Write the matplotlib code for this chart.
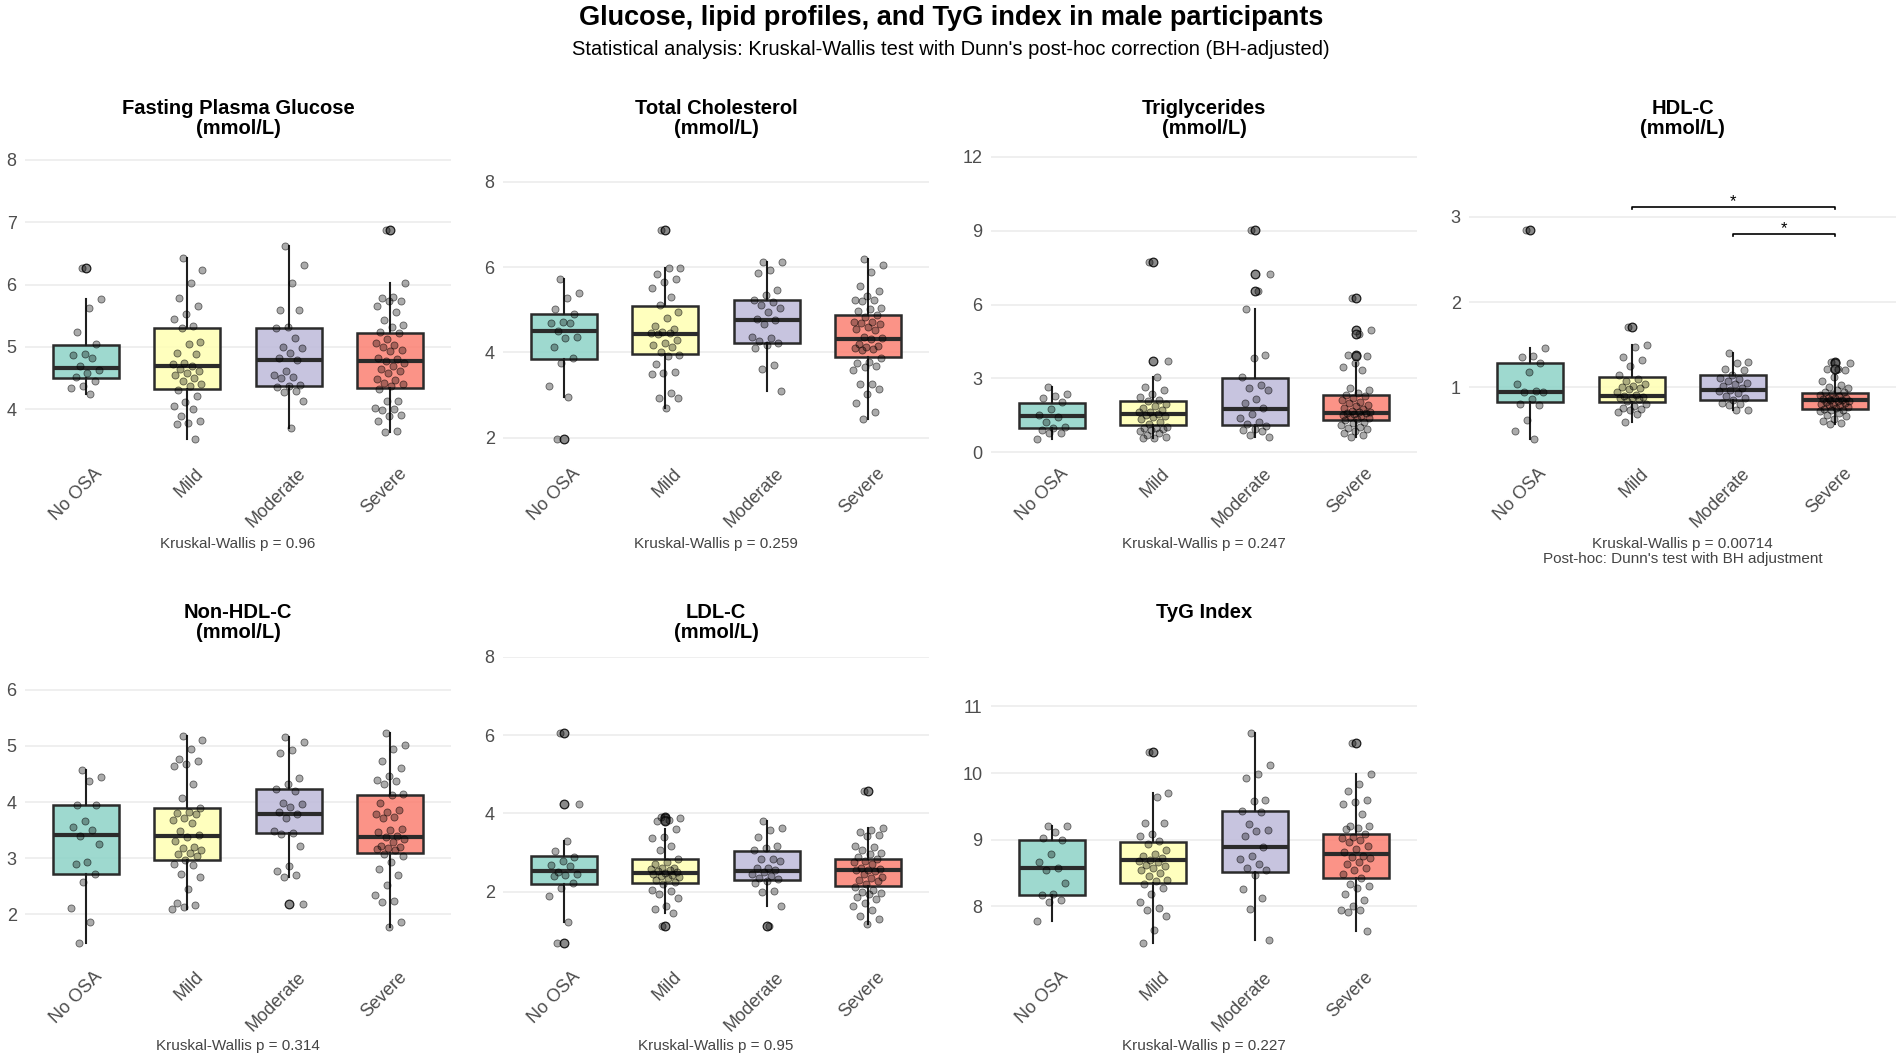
import numpy as np
import matplotlib
matplotlib.use("Agg")
import matplotlib.pyplot as plt
from matplotlib.colors import to_rgba
from matplotlib.ticker import MultipleLocator, FormatStrFormatter
from matplotlib.transforms import ScaledTranslation

plt.rcParams["font.family"] = ["Liberation Sans", "DejaVu Sans"]

# groups and colours (Set3)
groups = ["No OSA", "Mild", "Moderate", "Severe"]
group_colors = ["#8DD3C7", "#FFFFB3", "#BEBADA", "#FB8072"]

# Fasting plasma glucose (mmol/L)
fpg_no_osa = [6.26, 5.77, 5.63, 5.24, 5.04, 4.89, 4.87, 4.83, 4.69, 4.63, 4.59, 4.52, 4.46, 4.38, 4.35, 4.25]
fpg_mild = [6.43, 6.23, 6.03, 5.78, 5.65, 5.53, 5.45, 5.34, 5.30, 5.08, 5.04, 4.90, 4.89, 4.75, 4.72, 4.70, 4.65,
            4.62, 4.58, 4.55, 4.51, 4.45, 4.40, 4.38, 4.31, 4.22, 4.12, 4.05, 4.00, 3.90, 3.82, 3.78, 3.77, 3.52]
fpg_moderate = [6.61, 6.31, 6.03, 5.59, 5.59, 5.32, 5.30, 5.15, 5.00, 4.98, 4.91, 4.82, 4.79, 4.61, 4.55, 4.52,
                4.51, 4.39, 4.37, 4.36, 4.30, 4.28, 4.14, 3.71]
fpg_severe = [6.88, 6.03, 5.80, 5.79, 5.73, 5.73, 5.65, 5.56, 5.43, 5.35, 5.32, 5.24, 5.22, 5.12, 5.06, 5.03, 5.00,
              4.95, 4.94, 4.83, 4.80, 4.78, 4.74, 4.69, 4.65, 4.62, 4.59, 4.49, 4.47, 4.43, 4.41, 4.38, 4.33, 4.14,
              4.13, 4.02, 4.00, 3.99, 3.91, 3.89, 3.81, 3.66, 3.63]
fpg_box = [(4.50, 4.67, 5.035), (4.32, 4.69, 5.31), (4.37, 4.79, 5.30), (4.34, 4.78, 5.22)]

# Total cholesterol
tc_no_osa = [5.72, 5.39, 5.27, 5.02, 4.89, 4.71, 4.70, 4.68, 4.49, 4.36, 4.33, 4.13, 3.86, 3.74, 3.21, 2.96, 1.96]
tc_mild = [6.88, 5.98, 5.97, 5.83, 5.73, 5.66, 5.51, 5.30, 5.12, 4.95, 4.80, 4.63, 4.55, 4.48, 4.46, 4.45, 4.43,
           4.28, 4.22, 4.18, 4.12, 4.02, 3.94, 3.92, 3.72, 3.53, 3.52, 3.50, 3.05, 2.93, 2.92, 2.69]
tc_moderate = [6.13, 6.11, 5.93, 5.87, 5.47, 5.34, 5.22, 5.19, 5.12, 5.05, 4.95, 4.79, 4.76, 4.66, 4.37, 4.34,
               4.27, 4.23, 4.17, 4.11, 3.71, 3.61, 3.09]
tc_severe = [6.20, 6.05, 5.88, 5.55, 5.45, 5.32, 5.22, 5.22, 5.20, 5.05, 5.02, 4.98, 4.88, 4.83, 4.72, 4.71, 4.68,
             4.66, 4.60, 4.55, 4.52, 4.36, 4.33, 4.31, 4.20, 4.15, 4.12, 4.10, 4.08, 4.05, 3.86, 3.78, 3.76, 3.69,
             3.65, 3.58, 3.27, 3.25, 3.13, 3.03, 2.82, 2.61, 2.43]
tc_box = [(3.85, 4.49, 4.91), (3.97, 4.43, 5.09), (4.23, 4.77, 5.23), (3.88, 4.32, 4.87)]

# Triglycerides
tg_no_osa = [2.67, 2.35, 2.27, 2.20, 2.03, 1.78, 1.52, 1.45, 1.25, 1.05, 0.99, 0.93, 0.80, 0.77, 0.53]
tg_mild = [7.72, 3.72, 3.05, 2.65, 2.55, 2.38, 2.25, 2.12, 2.08, 1.98, 1.88, 1.80, 1.72, 1.65, 1.62, 1.55, 1.52,
           1.48, 1.45, 1.35, 1.22, 1.15, 1.05, 1.00, 0.98, 0.95, 0.92, 0.85, 0.78, 0.70, 0.62, 0.58, 0.58]
tg_moderate = [9.04, 7.23, 6.54, 5.82, 3.97, 3.82, 3.05, 2.73, 2.60, 2.55, 2.18, 2.00, 1.80, 1.55, 1.38, 1.25,
               1.15, 1.08, 0.96, 0.90, 0.85, 0.72, 0.63]
tg_severe = [6.28, 4.98, 4.80, 3.95, 3.92, 3.62, 3.45, 3.35, 2.62, 2.55, 2.40, 2.32, 2.28, 2.22, 2.12, 2.05, 2.02,
             1.92, 1.88, 1.82, 1.75, 1.70, 1.65, 1.62, 1.60, 1.58, 1.55, 1.52, 1.48, 1.45, 1.40, 1.35, 1.30, 1.25,
             1.18, 1.10, 1.05, 0.98, 0.95, 0.88, 0.80, 0.72, 0.62]
tg_box = [(0.99, 1.46, 2.00), (1.11, 1.55, 2.09), (1.11, 1.77, 3.03), (1.30, 1.61, 2.33)]

# HDL-C
hdl_no_osa = [2.85, 1.46, 1.37, 1.35, 1.28, 1.18, 1.04, 0.96, 0.94, 0.94, 0.86, 0.81, 0.79, 0.62, 0.49, 0.39]
hdl_mild = [1.71, 1.50, 1.47, 1.35, 1.32, 1.25, 1.15, 1.10, 1.07, 1.04, 1.02, 1.00, 0.99, 0.98, 0.95, 0.91, 0.90,
            0.89, 0.88, 0.87, 0.86, 0.84, 0.81, 0.78, 0.76, 0.75, 0.74, 0.71, 0.69, 0.59]
hdl_moderate = [1.40, 1.30, 1.29, 1.21, 1.20, 1.14, 1.11, 1.10, 1.07, 1.05, 1.04, 1.02, 0.99, 0.97, 0.96, 0.93,
                0.90, 0.88, 0.85, 0.82, 0.81, 0.79, 0.74, 0.73]
hdl_severe = [1.30, 1.29, 1.22, 1.21, 1.20, 1.12, 1.08, 1.03, 1.00, 0.99, 0.97, 0.95, 0.94, 0.92, 0.91, 0.90, 0.88,
              0.88, 0.87, 0.86, 0.85, 0.85, 0.84, 0.84, 0.83, 0.82, 0.81, 0.80, 0.79, 0.79, 0.77, 0.76, 0.75, 0.74,
              0.73, 0.72, 0.70, 0.68, 0.66, 0.63, 0.60, 0.58, 0.57]
hdl_box = [(0.83, 0.94, 1.28), (0.83, 0.90, 1.125), (0.85, 0.97, 1.14), (0.745, 0.85, 0.93)]
# significant pairs (group index a, group index b, bracket height, label)
hdl_sig = [(2, 4, 3.12, "*"), (3, 4, 2.80, "*")]

# Non-HDL-C
nhdl_no_osa = [4.58, 4.44, 4.37, 3.95, 3.94, 3.67, 3.56, 3.50, 3.40, 3.25, 2.93, 2.90, 2.72, 2.58, 2.12, 1.86, 1.49]
nhdl_mild = [5.17, 5.10, 4.94, 4.76, 4.73, 4.68, 4.65, 4.33, 4.07, 3.90, 3.82, 3.80, 3.78, 3.72, 3.68, 3.62, 3.48,
             3.41, 3.38, 3.30, 3.20, 3.18, 3.14, 3.10, 3.07, 3.04, 2.96, 2.90, 2.87, 2.72, 2.66, 2.45, 2.20, 2.17,
             2.13, 2.10]
nhdl_moderate = [5.16, 5.07, 4.92, 4.87, 4.43, 4.33, 4.23, 4.20, 3.98, 3.96, 3.92, 3.83, 3.78, 3.71, 3.49, 3.45,
                 3.43, 3.22, 2.86, 2.78, 2.70, 2.66, 2.19]
nhdl_severe = [5.23, 5.02, 4.95, 4.73, 4.60, 4.47, 4.39, 4.38, 4.32, 4.15, 4.13, 3.98, 3.86, 3.82, 3.78, 3.74, 3.72,
               3.52, 3.50, 3.46, 3.40, 3.37, 3.35, 3.29, 3.22, 3.20, 3.18, 3.16, 3.14, 3.07, 3.04, 2.93, 2.80, 2.70,
               2.53, 2.35, 2.23, 2.22, 1.87, 1.78]
nhdl_box = [(2.71, 3.41, 3.95), (2.97, 3.39, 3.89), (3.44, 3.78, 4.24), (3.09, 3.38, 4.12)]

# LDL-C
ldl_no_osa = [6.05, 4.25, 3.29, 3.03, 2.90, 2.79, 2.68, 2.65, 2.50, 2.46, 2.43, 2.41, 2.22, 2.10, 1.89, 1.23, 0.70]
ldl_mild = [3.90, 3.88, 3.83, 3.80, 3.60, 3.40, 3.38, 3.18, 3.07, 2.85, 2.75, 2.70, 2.62, 2.60, 2.58, 2.55, 2.52,
            2.50, 2.47, 2.45, 2.43, 2.40, 2.37, 2.35, 2.30, 2.25, 2.20, 2.05, 2.02, 1.95, 1.85, 1.63, 1.57, 1.46, 1.12]
ldl_moderate = [3.80, 3.62, 3.58, 3.39, 3.18, 3.12, 3.06, 2.85, 2.83, 2.78, 2.62, 2.60, 2.55, 2.50, 2.45, 2.40,
                2.35, 2.32, 2.28, 2.22, 2.02, 2.00, 1.65, 1.12]
ldl_severe = [4.57, 3.62, 3.58, 3.52, 3.45, 3.42, 3.18, 3.15, 3.08, 3.00, 2.97, 2.90, 2.85, 2.80, 2.75, 2.70, 2.62,
              2.58, 2.56, 2.55, 2.52, 2.45, 2.38, 2.35, 2.30, 2.27, 2.20, 2.12, 2.05, 2.00, 1.98, 1.95, 1.88, 1.82,
              1.72, 1.63, 1.55, 1.38, 1.30, 1.19]
ldl_box = [(2.21, 2.54, 2.91), (2.23, 2.47, 2.83), (2.31, 2.52, 3.04), (2.14, 2.56, 2.85)]

# TyG index
tyg_no_osa = [9.20, 9.20, 9.11, 9.02, 8.99, 8.79, 8.67, 8.58, 8.55, 8.35, 8.19, 8.17, 8.10, 8.07, 7.78]
tyg_mild = [10.31, 9.70, 9.64, 9.25, 9.25, 9.08, 9.06, 8.98, 8.93, 8.85, 8.78, 8.75, 8.72, 8.70, 8.68, 8.66, 8.62,
            8.60, 8.57, 8.55, 8.50, 8.45, 8.40, 8.38, 8.33, 8.28, 8.18, 8.07, 7.98, 7.95, 7.86, 7.64, 7.45]
tyg_moderate = [10.60, 10.12, 9.99, 9.92, 9.59, 9.58, 9.43, 9.41, 9.23, 9.15, 9.13, 9.06, 8.89, 8.76, 8.71, 8.63,
                8.58, 8.55, 8.47, 8.26, 8.12, 7.96, 7.49]
tyg_severe = [10.45, 9.99, 9.83, 9.73, 9.60, 9.56, 9.53, 9.39, 9.21, 9.20, 9.17, 9.16, 9.08, 9.04, 9.02, 8.99, 8.96,
              8.91, 8.86, 8.81, 8.76, 8.74, 8.73, 8.66, 8.64, 8.57, 8.54, 8.49, 8.43, 8.33, 8.30, 8.27, 8.19, 8.10,
              8.00, 7.95, 7.94, 7.92, 7.63]
tyg_box = [(8.17, 8.58, 9.00), (8.35, 8.69, 8.97), (8.52, 8.89, 9.43), (8.42, 8.78, 9.08)]

titles = ["Fasting Plasma Glucose\n(mmol/L)", "Total Cholesterol\n(mmol/L)", "Triglycerides\n(mmol/L)",
          "HDL-C\n(mmol/L)", "Non-HDL-C\n(mmol/L)", "LDL-C\n(mmol/L)", "TyG Index"]
kw_p = ["0.96", "0.259", "0.247", "0.00714", "0.314", "0.95", "0.227"]
tick_steps = [1, 2, 3, 1, 1, 2, 1]

panel_data = [
    ([fpg_no_osa, fpg_mild, fpg_moderate, fpg_severe], fpg_box),
    ([tc_no_osa, tc_mild, tc_moderate, tc_severe], tc_box),
    ([tg_no_osa, tg_mild, tg_moderate, tg_severe], tg_box),
    ([hdl_no_osa, hdl_mild, hdl_moderate, hdl_severe], hdl_box),
    ([nhdl_no_osa, nhdl_mild, nhdl_moderate, nhdl_severe], nhdl_box),
    ([ldl_no_osa, ldl_mild, ldl_moderate, ldl_severe], ldl_box),
    ([tyg_no_osa, tyg_mild, tyg_moderate, tyg_severe], tyg_box),
]

# layout in pixels
W, H = 1902, 1063
cols_px = [(25, 451), (503, 929), (991, 1417), (1469, 1896)]
rows_px = [(153, 453), (656.5, 956.5)]
title_top = [99, 603]
caption_top = [537, 1039]


def jitter(n):
    # deterministic spread of points around the group centre
    return ((np.arange(n) * 0.618034 + 0.37) % 1.0 - 0.5) * 0.3


fig = plt.figure(figsize=(W / 100, H / 100), dpi=100)
fig.patch.set_facecolor("white")

fig.text(0.5, 1 - 25 / H, "Glucose, lipid profiles, and TyG index in male participants",
         ha="center", va="baseline", fontsize=19.5, weight="bold")
fig.text(0.5, 1 - 55 / H, "Statistical analysis: Kruskal-Wallis test with Dunn's post-hoc correction (BH-adjusted)",
         ha="center", va="baseline", fontsize=14.5)

for k, (data, box) in enumerate(panel_data):
    row, col = divmod(k, 4)
    x0, x1 = cols_px[col]
    y0, y1 = rows_px[row]
    ax = fig.add_axes([x0 / W, 1 - y1 / H, (x1 - x0) / W, (y1 - y0) / H])

    stats = []
    for vals, (q1, med, q3) in zip(data, box):
        v = np.array(vals)
        iqr = q3 - q1
        inside = v[(v >= q1 - 1.5 * iqr) & (v <= q3 + 1.5 * iqr)]
        stats.append(dict(q1=q1, med=med, q3=q3, whislo=inside.min(), whishi=inside.max(),
                          fliers=v[(v < q1 - 1.5 * iqr) | (v > q3 + 1.5 * iqr)]))

    bp = ax.bxp(stats, positions=[1, 2, 3, 4], widths=0.65, patch_artist=True, showcaps=False,
                boxprops=dict(edgecolor="#2b2b2b", linewidth=1.8),
                medianprops=dict(color="#2b2b2b", linewidth=3.0, solid_capstyle="butt"),
                whiskerprops=dict(color="#1f1f1f", linewidth=1.5),
                flierprops=dict(marker="o", markersize=6.2, markerfacecolor=(0.35, 0.35, 0.35, 0.7),
                                markeredgecolor="#1a1a1a", markeredgewidth=0.9))
    for patch, c in zip(bp["boxes"], group_colors):
        patch.set_facecolor(to_rgba(c, 0.85))
        patch.set_zorder(2)
    for ln in bp["medians"]:
        ln.set_zorder(2.5)

    for i, vals in enumerate(data):
        ax.scatter(i + 1 + jitter(len(vals)), vals, s=26, facecolor=(0, 0, 0, 0.33),
                   edgecolor=(0, 0, 0, 0.55), linewidths=0.6, zorder=4)

    allv = np.concatenate([np.array(v) for v in data])
    lo, hi = allv.min(), allv.max()
    upper = hi + 0.3 * (hi - lo)
    span = upper - lo
    ax.set_ylim(lo - 0.05 * span, upper + 0.05 * span)
    ax.set_xlim(0.4, 4.6)

    ax.yaxis.set_major_locator(MultipleLocator(tick_steps[k]))
    ax.yaxis.set_major_formatter(FormatStrFormatter("%g"))
    ax.grid(axis="y", color="#EBEBEB", linewidth=1.1)
    ax.set_axisbelow(True)
    for s in ax.spines.values():
        s.set_visible(False)
    ax.tick_params(axis="y", length=0, labelsize=13, labelcolor="#4D4D4D", pad=6)
    ax.set_xticks([])

    offs = ax.get_xaxis_transform() + ScaledTranslation(0.08, -0.12, fig.dpi_scale_trans)
    for i, g in enumerate(groups):
        ax.text(i + 1, 0, g, transform=offs, rotation=45, ha="right", va="top",
                rotation_mode="anchor", fontsize=13, color="#4D4D4D")

    if k == 3:
        for a, b, h, lab in hdl_sig:
            ax.plot([a, a, b, b], [h - 0.025, h, h, h - 0.025], color="black", lw=1.2, zorder=5)
            ax.text((a + b) / 2, h + 0.005, lab, ha="center", va="baseline", fontsize=12)

    xc = (x0 + x1) / 2 / W
    fig.text(xc, 1 - title_top[row] / H, titles[k], ha="center", va="top",
             fontsize=14.5, weight="bold", linespacing=1.1)
    cap = "Kruskal-Wallis p = " + kw_p[k]
    if k == 3:
        cap += "\nPost-hoc: Dunn's test with BH adjustment"
    fig.text(xc, 1 - caption_top[row] / H, cap, ha="center", va="top",
             fontsize=11, color="#444444", linespacing=1.1)

fig.savefig("out.png", dpi=100)
